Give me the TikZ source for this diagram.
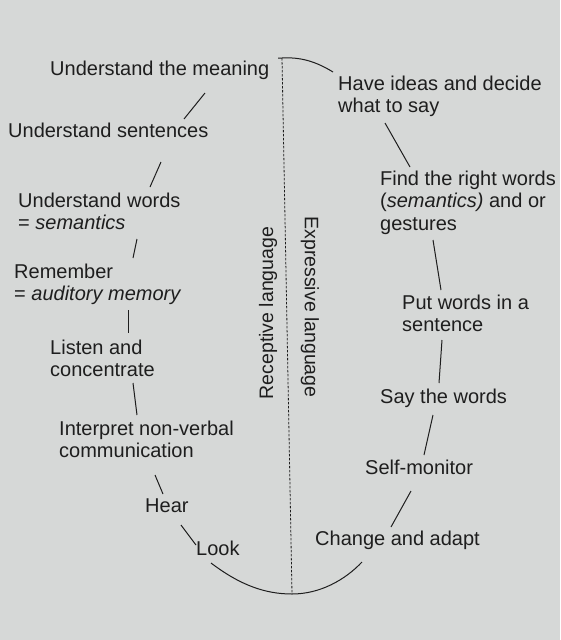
\documentclass[tikz,border=0pt]{standalone}
\usepackage{fontspec}
\setmainfont{Liberation Sans}
\definecolor{paper}{RGB}{214,216,215}
\definecolor{ink}{RGB}{30,30,30}
\tikzset{
  lbl/.style={anchor=north west,inner sep=0pt,align=left,text=ink,
    font=\fontsize{20}{22.5}\selectfont},
  side/.style={inner sep=0pt,text=ink,font=\fontsize{19.5}{22}\selectfont},
  link/.style={draw=ink,line width=1pt},
  divide/.style={draw=ink,line width=.8pt,dash pattern=on 2.5pt off 1.5pt}
}
\begin{document}
\begin{tikzpicture}[x=1pt,y=-1pt]
\fill[paper] (0,0) rectangle (560,640);
\useasboundingbox (0,0) rectangle (560,640);
% receptive side
\node[lbl] (meaning) at (50,60.5) {Understand the meaning};
\node[lbl] (sentences) at (8,122.5) {Understand sentences};
\node[lbl] (words) at (18,192.5) {Understand words\\= \textit{semantics}};
\node[lbl] (remember) at (14,263.5) {Remember\\= \textit{auditory memory}};
\node[lbl] (listen) at (50,339.5) {Listen and\\concentrate};
\node[lbl] (interpret) at (59,420.5) {Interpret non-verbal\\communication};
\node[lbl] (hear) at (145,498.5) {Hear};
\node[lbl] (look) at (196,540.5) {Look};
% expressive side
\node[lbl] (ideas) at (338,75.5) {Have ideas and decide\\what to say};
\node[lbl] (find) at (380,170.5) {Find the right words\\(\textit{semantics)} and or\\gestures};
\node[lbl] (put) at (402,294.5) {Put words in a\\sentence};
\node[lbl] (say) at (380,388.5) {Say the words};
\node[lbl] (self) at (365,459.5) {Self-monitor};
\node[lbl] (change) at (315,530.5) {Change and adapt};
% the two halves
\node[side,rotate=90] (receptive) at (268,313) {Receptive language};
\node[side,rotate=-90] (expressive) at (310,307) {Expressive language};
\coordinate (top) at (282,58);
\coordinate (bottom) at (292,594);
\draw[divide] (top) -- (bottom);
% ends of the links
\path (205,93) coordinate (l1a) (184,119) coordinate (l1b)
      (161,162) coordinate (l2a) (150,187) coordinate (l2b)
      (137,239) coordinate (l3a) (133,258) coordinate (l3b)
      (128,310) coordinate (l4a) (128,333) coordinate (l4b)
      (133,383) coordinate (l5a) (137,415) coordinate (l5b)
      (155,475) coordinate (l6a) (163,494) coordinate (l6b)
      (181,525) coordinate (l7a) (196,545) coordinate (l7b)
      (211,563) coordinate (l8a);
\path (333,72) coordinate (r1a)
      (385,123) coordinate (r2a) (410,167) coordinate (r2b)
      (433,240) coordinate (r3a) (441,290) coordinate (r3b)
      (442,340) coordinate (r4a) (439,383) coordinate (r4b)
      (433,415) coordinate (r5a) (424,455) coordinate (r5b)
      (411,491) coordinate (r6a) (391,527) coordinate (r6b)
      (362,562) coordinate (r7a);
\foreach \i in {1,...,7} \draw[link] (l\i a) -- (l\i b);
\foreach \i in {2,...,6} \draw[link] (r\i a) -- (r\i b);
\draw[link] (278,58) -- (top) .. controls (300,57) and (315,61) .. (r1a);
\draw[link] (l8a) .. controls (240,585) and (265,594) .. (bottom)
  .. controls (320,594) and (345,580) .. (r7a);
\end{tikzpicture}
\end{document}
